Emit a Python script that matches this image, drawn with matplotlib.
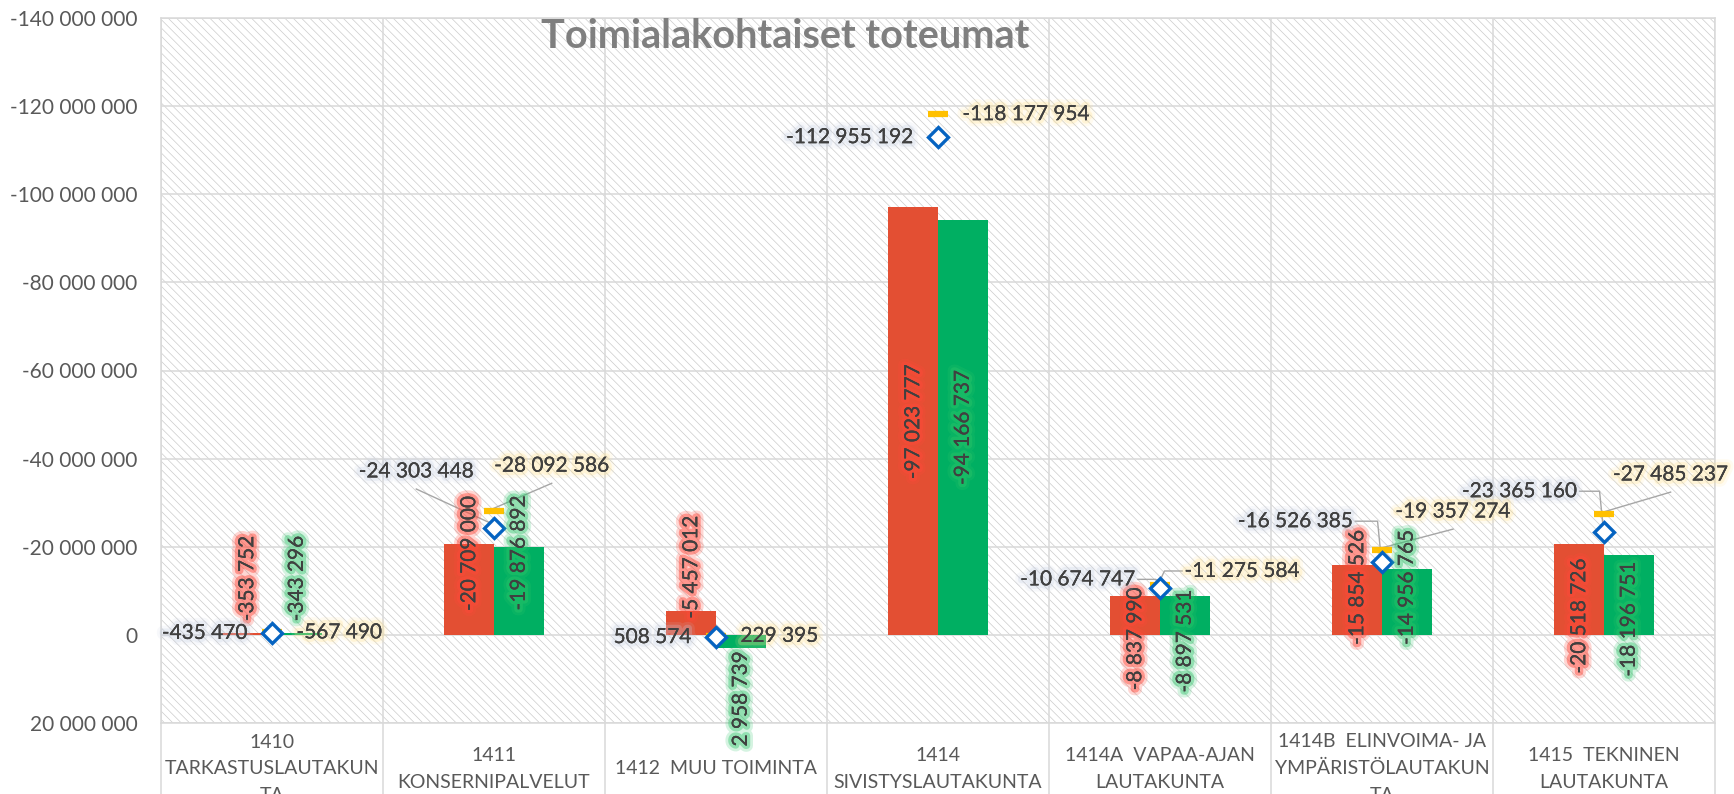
import matplotlib
matplotlib.use("Agg")
import matplotlib.pyplot as plt
import matplotlib.patheffects as pe
from matplotlib.patches import Rectangle
import numpy as np

plt.rcParams['font.family'] = ['Lato', 'DejaVu Sans']
plt.rcParams['hatch.linewidth'] = 0.5
plt.rcParams['hatch.color'] = '#cbcbcb'

categories = ["1410\nTARKASTUSLAUTAKUN\nTA", "1411\nKONSERNIPALVELUT", "1412  MUU TOIMINTA",
              "1414\nSIVISTYSLAUTAKUNTA", "1414A  VAPAA-AJAN\nLAUTAKUNTA",
              "1414B  ELINVOIMA- JA\nYMPÄRISTÖLAUTAKUN\nTA", "1415  TEKNINEN\nLAUTAKUNTA"]
red_vals = [-353752, -20709000, -5457012, -97023777, -8837990, -15854526, -20518726]
green_vals = [-343296, -19876892, 2958739, -94166737, -8897531, -14956765, -18196751]
diamond_vals = [-435470, -24303448, 508574, -112955192, -10674747, -16526385, -23365160]
dash_vals = [-567490, -28092586, 229395, -118177954, -11275584, -19357274, -27485237]

# where the rotated bar labels sit (centre, data units)
red_lab_y = [-12.8e6, -18.5e6, -15.4e6, -48.4e6, 0.9e6, -10.8e6, -4.3e6]
green_lab_y = [-12.8e6, -18.6e6, 14.5e6, -47.1e6, 1.4e6, -10.8e6, -3.6e6]
# moved labels of the marker series: (x offset, y, leader kind), None = next to marker
dia_lab = [None, (-0.35, -37.1e6, 'line'), None, None,
           (-0.37, -12.6e6, 'elbow'), (-0.39, -25.8e6, 'elbow'), (-0.38, -32.6e6, 'elbow')]
dash_lab = [None, (0.26, -38.4e6, 'line'), None, None,
            (0.37, -14.5e6, 'elbow'), (0.32, -28.0e6, 'line'), (0.30, -36.4e6, 'line')]

RED = '#E34F33'
GREEN = '#00AF62'
BLUE = '#0563C1'
YELLOW = '#FFC000'
GRID = '#d9d9d9'
TXT = '#404040'
LEAD = '#a6a6a6'


def fmt(v):
    return f"{v:,.0f}".replace(",", " ")


def glow(c, a=0.35):
    return [pe.withStroke(linewidth=9, foreground=c, alpha=a * 0.5),
            pe.withStroke(linewidth=5, foreground=c, alpha=a),
            pe.Normal()]


fig = plt.figure(figsize=(17.34, 7.94), dpi=100)
ax = fig.add_axes([161 / 1734, 1 - 723 / 794, (1715 - 161) / 1734, (723 - 18) / 794])

ax.add_patch(Rectangle((0, 0), 1, 1, transform=ax.transAxes, facecolor='white',
                       edgecolor='#cbcbcb', linewidth=0, hatch='\\\\\\\\', zorder=0))

x = np.arange(len(categories))
w = 0.223
ax.bar(x - w / 2, red_vals, w, color=RED, zorder=3)
ax.bar(x + w / 2, green_vals, w, color=GREEN, zorder=3)
ax.plot(x, dash_vals, ls='none', marker='_', ms=14, mew=4.5, color=YELLOW, zorder=4)
ax.plot(x, diamond_vals, ls='none', marker='D', ms=10, mfc='white', mec=BLUE, mew=2.4, zorder=5)

ax.set_xlim(-0.5, len(categories) - 0.5)
ax.set_ylim(20e6, -140e6)
yt = np.arange(-140e6, 20e6 + 1, 20e6)
ax.set_yticks(yt)
ax.set_yticklabels([fmt(v) for v in yt])
ax.set_xticks(x)
ax.set_xticklabels(categories, linespacing=1.7)
for t in ax.get_xticklabels():
    t.set_va('center')
ax.set_xticks(np.arange(-0.5, len(categories)), minor=True)
ax.tick_params(axis='y', length=0, pad=17, labelsize=15, labelcolor='#595959')
ax.tick_params(axis='x', which='major', length=0, pad=33, labelsize=14, labelcolor='#595959')
ax.tick_params(axis='x', which='minor', length=52, width=1.1, color=GRID, direction='out')
ax.grid(axis='y', which='major', color=GRID, lw=1.1, zorder=1)
ax.grid(axis='x', which='minor', color=GRID, lw=1.1, zorder=1)
ax.set_axisbelow(True)
for s in ax.spines.values():
    s.set_color(GRID)
    s.set_linewidth(1.1)

# bar labels
for i in range(len(categories)):
    ax.text(x[i] - w / 2, red_lab_y[i], fmt(red_vals[i]), rotation=90, ha='center', va='center',
            fontsize=15, color=TXT, zorder=6, clip_on=False, path_effects=glow('#ff4a3a', 0.45))
    ax.text(x[i] + w / 2, green_lab_y[i], fmt(green_vals[i]), rotation=90, ha='center', va='center',
            fontsize=15, color=TXT, zorder=6, clip_on=False, path_effects=glow('#2ec56a', 0.4))

# marker labels
for vals, lab, side, gc in [(diamond_vals, dia_lab, -1, '#c3cde0'), (dash_vals, dash_lab, 1, '#ffe08a')]:
    for i in range(len(categories)):
        v = vals[i]
        if lab[i] is None:
            ax.text(x[i] + side * 0.11, v, fmt(v), ha='left' if side > 0 else 'right', va='center',
                    fontsize=15, color=TXT, zorder=6, path_effects=glow(gc, 0.25))
            continue
        dx, ly, kind = lab[i]
        ax.text(x[i] + dx, ly, fmt(v), ha='center', va='center', fontsize=15, color=TXT,
                zorder=6, clip_on=False, path_effects=glow(gc, 0.25))
        if kind == 'line':
            ax.plot([x[i] + dx, x[i] - side * 0.03], [ly + 4e6, v], color=LEAD, lw=1, zorder=3.5)
        else:
            x0 = x[i] + dx - side * 0.27
            x1 = x[i] + side * 0.02
            ax.plot([x0, x1, x[i] + side * 0.005], [ly, ly, v - 1.6e6], color=LEAD, lw=1, zorder=3.5)

fig.text(785 / 1734, 1 - 37 / 794, "Toimialakohtaiset toteumat", ha='center', va='center',
         fontsize=28.5, fontweight='bold', color='#7f7f7f')

fig.savefig("out.png", dpi=100)
